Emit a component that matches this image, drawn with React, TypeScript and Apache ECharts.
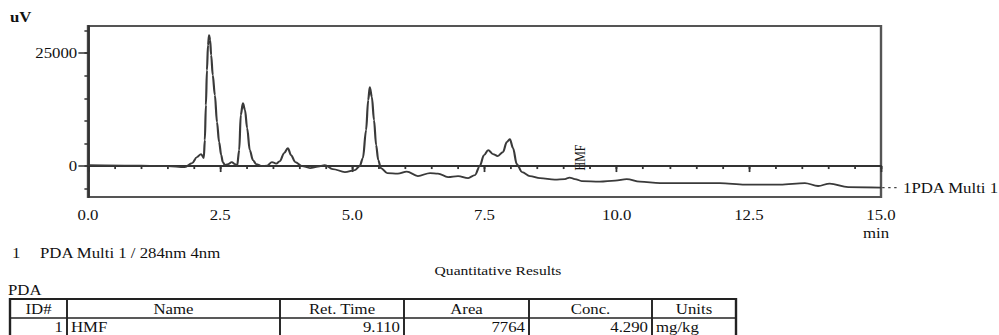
import React, { useEffect, useRef } from "react";
import * as echarts from "echarts";

// ---- data ----
const retentionTimes = [
  0, 1.0, 1.5, 1.83, 1.97, 2.06, 2.14, 2.19, 2.21, 2.23, 2.25, 2.27, 2.29, 2.31, 2.33, 2.36, 2.4, 2.44,
  2.48, 2.52, 2.55, 2.59, 2.65, 2.72, 2.78, 2.82, 2.86, 2.89, 2.93, 2.97, 3.01, 3.06, 3.12, 3.18, 3.29,
  3.39, 3.48, 3.56, 3.63, 3.71, 3.78, 3.84, 3.92, 4.05, 4.2, 4.35, 4.48, 4.63, 4.86, 5.05, 5.14, 5.2,
  5.26, 5.3, 5.33, 5.37, 5.41, 5.45, 5.49, 5.54, 5.66, 5.86, 6.03, 6.24, 6.47, 6.62, 6.81, 7.0, 7.19,
  7.32, 7.41, 7.49, 7.57, 7.66, 7.75, 7.85, 7.92, 7.98, 8.04, 8.11, 8.21, 8.36, 8.55, 8.83, 9.02, 9.11,
  9.21, 9.34, 9.68, 9.97, 10.19, 10.44, 10.82, 11.39, 11.95, 12.43, 13.09, 13.56, 13.81, 14.03, 14.38, 15.0,
];
const signalUV = [
  220, 110, 0, -220, 660, 1990, 2650, 1770, 5750, 13500, 21200, 26760, 28970, 27870, 24550, 20100, 15700, 9730,
  5300, 2430, 880, 220, 440, 880, 440, 0, 3540, 11300, 13900, 12400, 8400, 3540, 1330, 440, 0,
  110, 880, 550, 1100, 2880, 3980, 2430, 880, 0, -440, -110, 220, -660, -1330, -880, 0, 1770,
  7960, 14600, 17470, 15260, 10180, 4650, 1330, -440, -1550, -1660, -1220, -2210, -1550, -1660, -2430, -2210, -2650,
  -1990, 0, 2430, 3540, 2650, 2210, 3100, 5300, 5970, 3980, 440, -1330, -2210, -2650, -2990, -2880, -2540,
  -2880, -3320, -3430, -3210, -2880, -3430, -3760, -3760, -3760, -4090, -4090, -3760, -4420, -3870, -4650, -4760,
];
const yTickValues = [-5000, 0, 5000, 10000, 15000, 20000, 25000, 30000];
const yLabelValues = [0, 25000];
const xTickValues = [
  0, 0.5, 1, 1.5, 2, 2.5, 3, 3.5, 4, 4.5, 5, 5.5, 6, 6.5, 7, 7.5, 8, 8.5, 9, 9.5, 10, 10.5, 11, 11.5, 12,
  12.5, 13, 13.5, 14, 14.5, 15,
];
const xLabelValues = [0, 2.5, 5, 7.5, 10, 12.5, 15];
const hmfPeak = { name: "HMF", time: 9.11, value: -2540 };
const channelLabel = "1PDA Multi 1";
const detectorIndex = "1";
const detectorNote = "PDA Multi 1 / 284nm 4nm";
const tableTitle = "Quantitative Results";
const tableGroup = "PDA";
const tableHeaders = ["ID#", "Name", "Ret. Time", "Area", "Conc.", "Units"];
const tableRow = ["1", "HMF", "9.110", "7764", "4.290", "mg/kg"];

// ---- layout (page pixels) ----
const PAGE_W = 999;
const PAGE_H = 335;
const CHART_W = 833;
const S = PAGE_W / CHART_W; // horizontal stretch of the scanned print
const px = (x: number) => x / S;
const FONT = "'Liberation Serif', 'Times New Roman', serif";
const INK = "#111";
const colEdges = [10, 67, 280, 404, 529, 652, 736];
const rowEdges = [299, 318, 337];
const rowAlign = ["right", "left", "right", "right", "right", "left"];

function txt(x: number, y: number, text: string, opts: any = {}) {
  return {
    type: "text",
    x: px(x),
    y,
    rotation: opts.rotation || 0,
    silent: true,
    style: {
      text,
      fill: opts.fill || INK,
      fontFamily: FONT,
      fontSize: opts.fontSize || 14,
      fontWeight: opts.fontWeight || "normal",
      align: opts.align || "left",
      verticalAlign: "middle",
    },
  };
}

export default function App() {
  const ref = useRef<HTMLDivElement>(null);

  useEffect(() => {
    if (!ref.current) return;
    const chart = echarts.init(ref.current, null, { renderer: "svg" });
    const gridLeft = px(88);
    const gridRight = CHART_W - px(881);
    const yMin = -6850;
    const yMax = 31000;

    chart.setOption({
      animation: false,
      backgroundColor: "#fff",
      grid: {
        left: gridLeft,
        right: gridRight,
        top: 26,
        bottom: PAGE_H - 197,
        show: true,
        borderColor: "#555",
        borderWidth: 2,
        containLabel: false,
      },
      xAxis: [
        {
          type: "value",
          min: 0,
          max: 15,
          interval: 0.5,
          position: "bottom",
          axisLine: { show: true, lineStyle: { color: "#333", width: 2 } },
          axisTick: {
            show: true,
            inside: false,
            customValues: xTickValues,
            length: 3,
            lineStyle: { color: "#333", width: 1.5 },
          },
          axisLabel: {
            show: true,
            customValues: xLabelValues,
            formatter: (v: number) => v.toFixed(1),
            margin: 11,
            color: INK,
            fontFamily: FONT,
            fontSize: 14,
          },
          splitLine: { show: false },
        },
        {
          type: "value",
          min: 0,
          max: 15,
          position: "bottom",
          axisLine: { show: false },
          axisTick: {
            show: true,
            inside: false,
            customValues: xLabelValues,
            length: 6,
            lineStyle: { color: "#333", width: 1.5 },
          },
          axisLabel: { show: false },
          splitLine: { show: false },
        },
      ],
      yAxis: [
        {
          type: "value",
          min: yMin,
          max: yMax,
          position: "left",
          axisLine: { show: true, lineStyle: { color: "#333", width: 2 } },
          axisTick: {
            show: true,
            inside: false,
            customValues: yTickValues,
            length: 3,
            lineStyle: { color: "#333", width: 1.5 },
          },
          axisLabel: {
            show: true,
            customValues: yLabelValues,
            formatter: (v: number) => String(v),
            margin: 9,
            color: INK,
            fontFamily: FONT,
            fontSize: 14,
          },
          splitLine: { show: false },
        },
        {
          type: "value",
          min: yMin,
          max: yMax,
          position: "left",
          axisLine: { show: false },
          axisTick: {
            show: true,
            inside: false,
            customValues: yLabelValues,
            length: 8,
            lineStyle: { color: "#333", width: 1.5 },
          },
          axisLabel: { show: false },
          splitLine: { show: false },
        },
      ],
      series: [
        {
          type: "line",
          xAxisIndex: 0,
          yAxisIndex: 0,
          data: retentionTimes.map((t, i) => [t, signalUV[i]]),
          showSymbol: false,
          smooth: 0.35,
          smoothMonotone: "x",
          lineStyle: { color: "#3a3a3a", width: 1.8 },
          endLabel: {
            show: true,
            formatter: channelLabel,
            distance: px(22),
            color: INK,
            fontFamily: FONT,
            fontSize: 14,
          },
          z: 3,
        },
      ],
    });

    const [hx, hy] = chart.convertToPixel({ seriesIndex: 0 }, [hmfPeak.time, hmfPeak.value]);
    const last = retentionTimes.length - 1;
    const [ex, ey] = chart.convertToPixel({ seriesIndex: 0 }, [retentionTimes[last], signalUV[last]]);

    const graphics: any[] = [];
    graphics.push({
      type: "text",
      x: hx + px(10),
      y: hy - 20,
      rotation: Math.PI / 2,
      silent: true,
      style: {
        text: hmfPeak.name,
        fill: INK,
        fontFamily: FONT,
        fontSize: 12,
        align: "center",
        verticalAlign: "middle",
      },
    });
    graphics.push({
      type: "line",
      silent: true,
      shape: { x1: ex + 1, y1: ey, x2: ex + px(19), y2: ey },
      style: { stroke: "#444", lineWidth: 1.2, lineDash: [2, 3] },
    });
    graphics.push(txt(10, 17, "uV", { fontWeight: "bold" }));
    graphics.push(txt(876, 233, "min", { align: "center" }));
    graphics.push(txt(12, 253, detectorIndex));
    graphics.push(txt(40, 253, detectorNote));
    graphics.push(txt(498, 270, tableTitle, { align: "center", fontSize: 13 }));
    graphics.push(txt(8, 290, tableGroup));

    const tTop = rowEdges[0];
    const tBot = rowEdges[rowEdges.length - 1];
    graphics.push({
      type: "rect",
      silent: true,
      shape: { x: px(colEdges[0]), y: tTop, width: px(colEdges[colEdges.length - 1] - colEdges[0]), height: tBot - tTop },
      style: { fill: "none", stroke: "#222", lineWidth: 2 },
    });
    colEdges.slice(1, -1).forEach((cx) => {
      graphics.push({
        type: "line",
        silent: true,
        shape: { x1: px(cx), y1: tTop, x2: px(cx), y2: tBot },
        style: { stroke: "#222", lineWidth: 1.6 },
      });
    });
    graphics.push({
      type: "line",
      silent: true,
      shape: { x1: px(colEdges[0]), y1: rowEdges[1], x2: px(colEdges[colEdges.length - 1]), y2: rowEdges[1] },
      style: { stroke: "#222", lineWidth: 1.6 },
    });
    tableHeaders.forEach((h, i) => {
      const cx = (colEdges[i] + colEdges[i + 1]) / 2;
      graphics.push(txt(cx, (rowEdges[0] + rowEdges[1]) / 2 + 0.5, h, { align: "center" }));
    });
    tableRow.forEach((v, i) => {
      const a = rowAlign[i];
      const x = a === "right" ? colEdges[i + 1] - 4 : colEdges[i] + 4;
      graphics.push(txt(x, (rowEdges[1] + rowEdges[2]) / 2 - 0.5, v, { align: a }));
    });

    chart.setOption({ graphic: graphics });

    return () => chart.dispose();
  }, []);

  return (
    <div
      style={{
        position: "fixed",
        left: 0,
        top: 0,
        width: PAGE_W,
        height: PAGE_H,
        overflow: "hidden",
        background: "#fff",
      }}
    >
      <div
        ref={ref}
        style={{
          width: CHART_W,
          height: PAGE_H,
          transform: `scaleX(${S})`,
          transformOrigin: "0 0",
        }}
      />
    </div>
  );
}
